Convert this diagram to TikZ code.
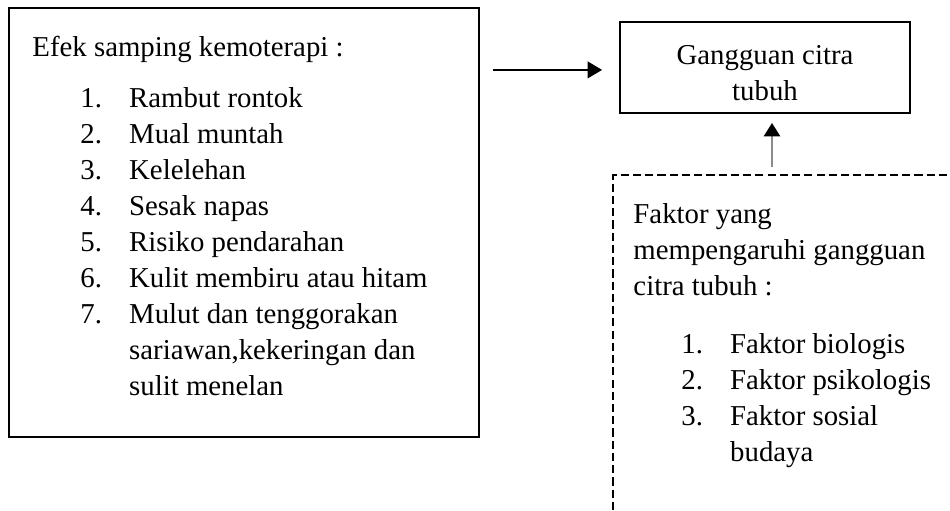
\documentclass[tikz,border=0pt]{standalone}
\usepackage{fontspec}
\setmainfont{Liberation Serif}
\usepackage{tikz}
\usetikzlibrary{positioning,arrows.meta}

\newcommand{\butir}[2]{\hspace*{20pt}\makebox[20.3pt][l]{#1}#2}

\begin{document}
\begin{tikzpicture}[x=0.41667pt, y=-0.41667pt]%
  \tikzset{kotak biasa/.style={draw, rectangle, line width=1pt, inner sep=0pt}}
  \tikzset{kotak putus/.style={draw, rectangle, line width=0.85pt, inner sep=0pt, dash pattern=on 3.4pt off 1.7pt}}
  \tikzset{isi/.style={align=left, inner sep=0pt, anchor=north west}}
  \tikzset{panah biasa/.style={draw, -{Triangle[length=6pt, width=7pt]}, line width=0.6pt}}
  \tikzset{panah abu/.style={draw=black!45, -{Triangle[length=5.5pt, width=6.8pt, color=black]}, line width=0.6pt}}
  \tikzstyle{every node}=[font=\fontsize{12pt}{15pt}\selectfont]

  \clip (0,0) rectangle (950,510);% dashed box runs off the page

  \node[kotak biasa, minimum width=195.8pt, minimum height=178.8pt] at (244,222.5) (efek) {};
  \node[isi] at (32,35.3) (efekisi) {Efek samping kemoterapi :\\[6.3pt]
    \butir{1.}{Rambut rontok}\\
    \butir{2.}{Mual muntah}\\
    \butir{3.}{Kelelehan}\\
    \butir{4.}{Sesak napas}\\
    \butir{5.}{Risiko pendarahan}\\
    \butir{6.}{Kulit membiru atau hitam}\\
    \butir{7.}{Mulut dan tenggorakan}\\
    \butir{}{sariawan,kekeringan dan}\\
    \butir{}{sulit menelan}};

  % text sits a little low in the box, hence the strut
  \node[kotak biasa, align=center, minimum width=120.8pt, minimum height=37.9pt] at (765,67.5) (gangguan) {\rule{0pt}{13pt}Gangguan citra\\tubuh};

  \node[kotak putus, minimum width=144.6pt, minimum height=145.8pt] at (786.5,350) (faktor) {};
  \node[isi] at (633,203.3) (faktorisi) {Faktor yang\\
    mempengaruhi gangguan\\
    citra tubuh :\\[9.2pt]
    \butir{1.}{Faktor biologis}\\
    \butir{2.}{Faktor psikologis}\\
    \butir{3.}{Faktor sosial}\\
    \butir{}{budaya}};

  \coordinate (pangkal) at (772,175);

  \path[panah biasa, shorten <=5.4pt, shorten >=7pt] ([yshift=-1pt]efek.east |- gangguan.west) -- ([yshift=-1pt]gangguan.west);
  \path[panah abu, shorten <=3.3pt, shorten >=3.7pt] (pangkal) -- (pangkal |- gangguan.south);
\end{tikzpicture}
\end{document}
